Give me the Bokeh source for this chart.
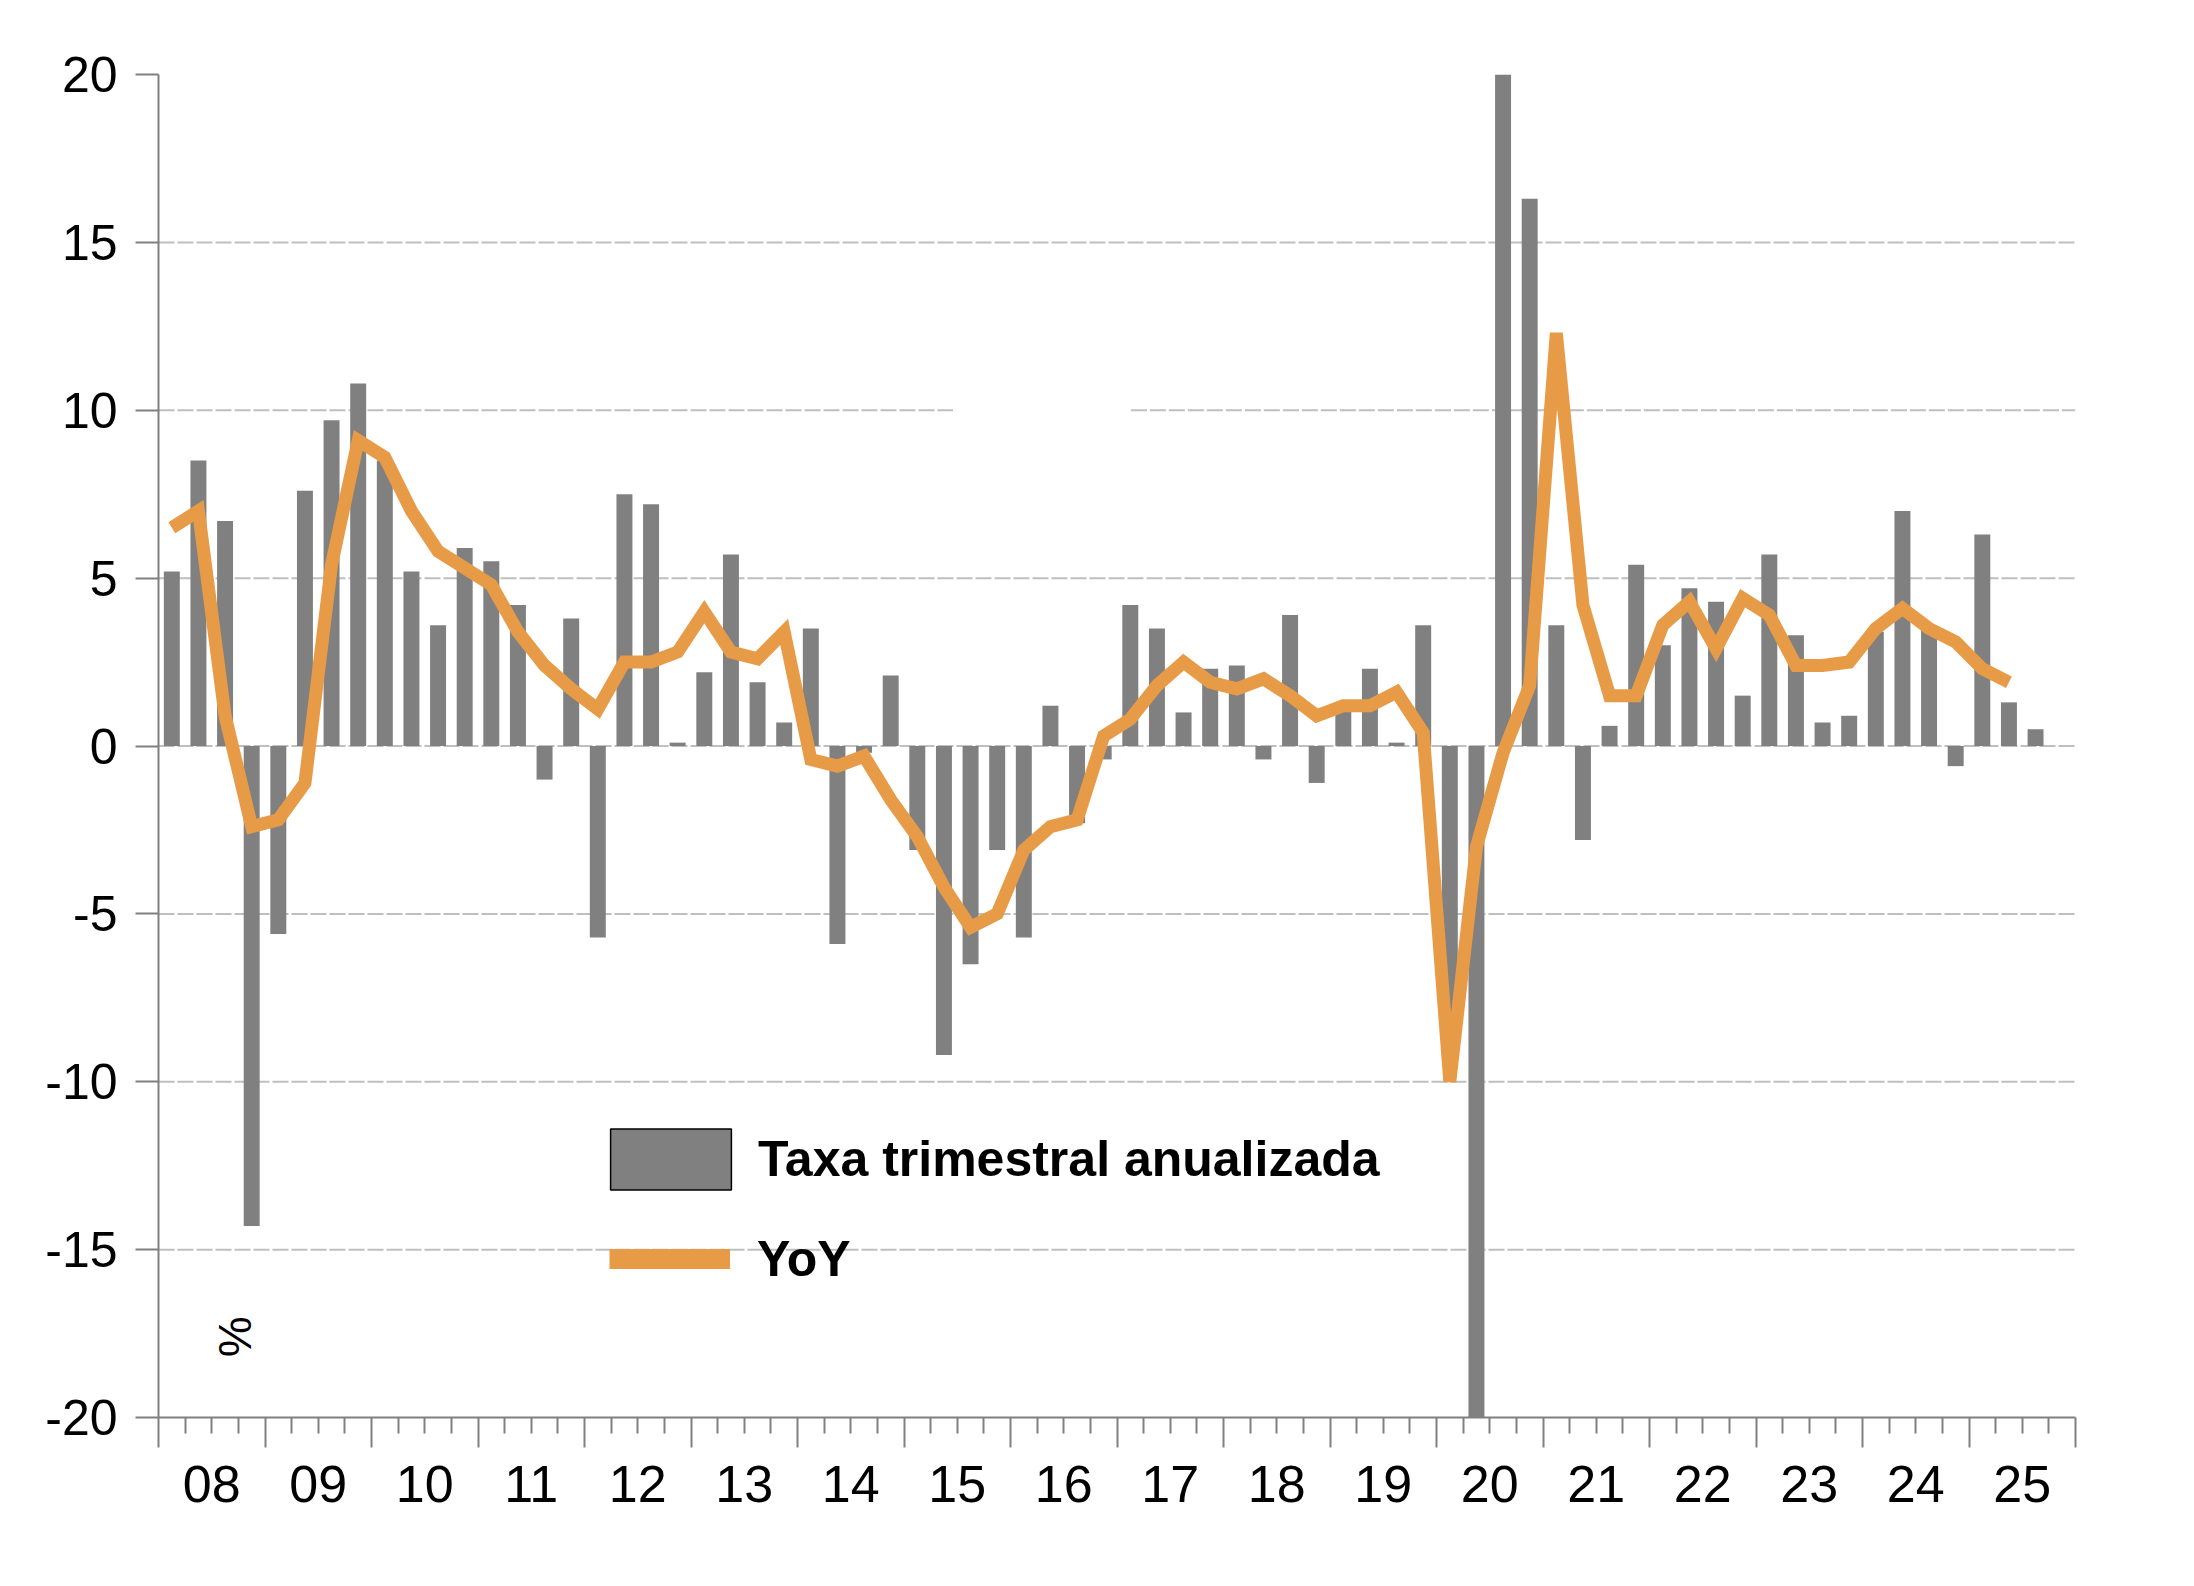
import math
from bokeh.plotting import figure
from bokeh.models import (FixedTicker, LinearAxis, Legend, LegendItem, Label,
                          ColumnDataSource, CustomLabelingPolicy)
from bokeh.embed import file_html
from bokeh.resources import INLINE

# ---------------- data ----------------
years = list(range(2008, 2026))
year_labels = ["08", "09", "10", "11", "12", "13", "14", "15", "16",
               "17", "18", "19", "20", "21", "22", "23", "24", "25"]

# quarterly annualized rate (2008Q1 .. 2025Q3)
qoq_annualized = [
    5.2, 8.5, 6.7, -14.3,
    -5.6, 7.6, 9.7, 10.8,
    8.5, 5.2, 3.6, 5.9,
    5.5, 4.2, -1.0, 3.8,
    -5.7, 7.5, 7.2, 0.1,
    2.2, 5.7, 1.9, 0.7,
    3.5, -5.9, -0.2, 2.1,
    -3.1, -9.2, -6.5, -3.1,
    -5.7, 1.2, -2.3, -0.4,
    4.2, 3.5, 1.0, 2.3,
    2.4, -0.4, 3.9, -1.1,
    1.1, 2.3, 0.1, 3.6,
    -8.5, -20.0, 20.1, 16.3,
    3.6, -2.8, 0.6, 5.4,
    3.0, 4.7, 4.3, 1.5,
    5.7, 3.3, 0.7, 0.9,
    3.4, 7.0, 3.5, -0.6,
    6.3, 1.3, 0.5,
]

# year-on-year rate (2008Q1 .. 2025Q2)
yoy = [
    6.5, 7.0, 0.9, -2.4,
    -2.2, -1.1, 5.4, 9.1,
    8.6, 7.0, 5.8, 5.3,
    4.8, 3.4, 2.4, 1.7,
    1.1, 2.5, 2.5, 2.8,
    4.0, 2.8, 2.6, 3.4,
    -0.4, -0.6, -0.3, -1.6,
    -2.7, -4.2, -5.4, -5.0,
    -3.1, -2.4, -2.2, 0.3,
    0.8, 1.8, 2.5, 1.9,
    1.7, 2.0, 1.5, 0.9,
    1.2, 1.2, 1.6, 0.4,
    -10.0, -3.0, -0.2, 1.8,
    12.3, 4.2, 1.5, 1.5,
    3.6, 4.3, 2.9, 4.4,
    3.9, 2.4, 2.4, 2.5,
    3.5, 4.1, 3.5, 3.1,
    2.3, 1.9,
]

y_ticks = [-20, -15, -10, -5, 0, 5, 10, 15, 20]
grid_levels = [-15, -10, -5, 0, 5, 10, 15]

# ---------------- styling ----------------
BAR = "#808080"
ORANGE = "#E89B46"
AXIS = "#808080"
GRID = "#BFBFBF"
FONT = "Liberation Sans"
NAN = float("nan")

x0, x1 = years[0], years[-1] + 1
qx_bar = [x0 + (i + 0.5) / 4 for i in range(len(qoq_annualized))]
qx_line = [x0 + (i + 0.5) / 4 for i in range(len(yoy))]

p = figure(width=2194, height=1586, x_range=(x0, x1), y_range=(-20, 20),
           output_backend="svg", toolbar_location=None,
           min_border_left=158, min_border_right=119,
           min_border_top=74, min_border_bottom=169)
p.outline_line_color = None
p.xgrid.visible = False
p.ygrid.visible = False
p.background_fill_color = "white"
p.border_fill_color = "white"

# dashed gridlines (the 10 line is interrupted in the source chart)
gap_start, gap_end = 2015.46, 2017.13
gx, gy = [], []
for lv in grid_levels:
    if lv == 10:
        gx.append([x0, gap_start]); gy.append([lv, lv])
        gx.append([gap_end, x1]); gy.append([lv, lv])
    else:
        gx.append([x0, x1]); gy.append([lv, lv])
p.multi_line(xs=gx, ys=gy, line_color=GRID, line_width=2, line_dash="16 3")

src_b = ColumnDataSource(dict(x=qx_bar, top=qoq_annualized))
src_l = ColumnDataSource(dict(x=qx_line, y=yoy))
p.vbar(x="x", top="top", bottom=0, width=0.15, source=src_b,
       fill_color=BAR, line_color=None)
p.line(x="x", y="y", source=src_l, line_color=ORANGE, line_width=13,
       line_join="miter")

# legend proxies (not drawn in the plot, only in the legend)
leg_bar = p.vbar(x=[NAN], top=[NAN], bottom=[NAN], width=0.15, fill_color=BAR,
                 line_color="black", line_width=1.5)
leg_line = p.line(x=[NAN, NAN], y=[NAN, NAN], line_color=ORANGE, line_width=20)

common = dict(orientation="vertical", padding=0, margin=0,
              border_line_color=None, background_fill_alpha=0,
              label_text_font=FONT, label_text_font_size="50px",
              label_text_font_style="bold", label_text_color="black")

legend_bar = Legend(items=[LegendItem(label="Taxa trimestral anualizada",
                                      renderers=[leg_bar])],
                    location=(437, 220), glyph_width=151, glyph_height=76,
                    label_standoff=12, **common)
legend_line = Legend(items=[LegendItem(label="YoY", renderers=[leg_line])],
                     location=(451, 128), glyph_width=121, glyph_height=61,
                     label_standoff=27, **common)
p.add_layout(legend_bar, "center")
p.add_layout(legend_line, "center")

# y axis
ya = p.yaxis[0]
ya.ticker = FixedTicker(ticks=y_ticks)
ya.major_label_overrides = {t: str(t) for t in y_ticks}
ya.axis_line_color = AXIS
ya.axis_line_width = 2
ya.major_tick_line_color = AXIS
ya.major_tick_line_width = 2
ya.major_tick_out = 23
ya.major_tick_in = 0
ya.minor_tick_line_color = None
ya.major_label_standoff = 18
ya.major_label_text_font = FONT
ya.major_label_text_font_size = "50px"
ya.major_label_text_color = "black"

# x axis: ticks only (no labels)
xa = p.xaxis[0]
quarter_ticks = [y + q / 4 for y in years for q in (1, 2, 3)]
xa.ticker = FixedTicker(ticks=list(range(x0, x1 + 1)), minor_ticks=quarter_ticks)
xa.axis_line_color = AXIS
xa.axis_line_width = 2
xa.major_tick_line_color = AXIS
xa.major_tick_line_width = 2
xa.minor_tick_line_color = AXIS
xa.minor_tick_line_width = 2
xa.major_tick_out = 30
xa.major_tick_in = 0
xa.minor_tick_out = 16
xa.minor_tick_in = 0
xa.major_label_standoff = 0
xa.major_label_policy = CustomLabelingPolicy(
    code="for (const i of indices) { indices.unset(i) }\nreturn indices")

# x axis: year labels centred in each year
mids = [y + 0.5 for y in years]
xl = LinearAxis(ticker=FixedTicker(ticks=mids),
                major_label_overrides={m: lab for m, lab in zip(mids, year_labels)},
                axis_line_color=None, major_tick_line_color=None,
                minor_tick_line_color=None, major_tick_out=0, major_tick_in=0,
                major_label_standoff=7, major_label_text_font=FONT,
                major_label_text_font_size="52px", major_label_text_color="black")
p.add_layout(xl, "below")

# rotated percent sign
p.add_layout(Label(x=2008.72, y=-17.6, text="%", angle=math.pi / 2,
                   text_align="center", text_baseline="middle",
                   text_font=FONT, text_font_size="46px", text_color="black"))

open("out.html", "w").write(file_html(p, INLINE))
